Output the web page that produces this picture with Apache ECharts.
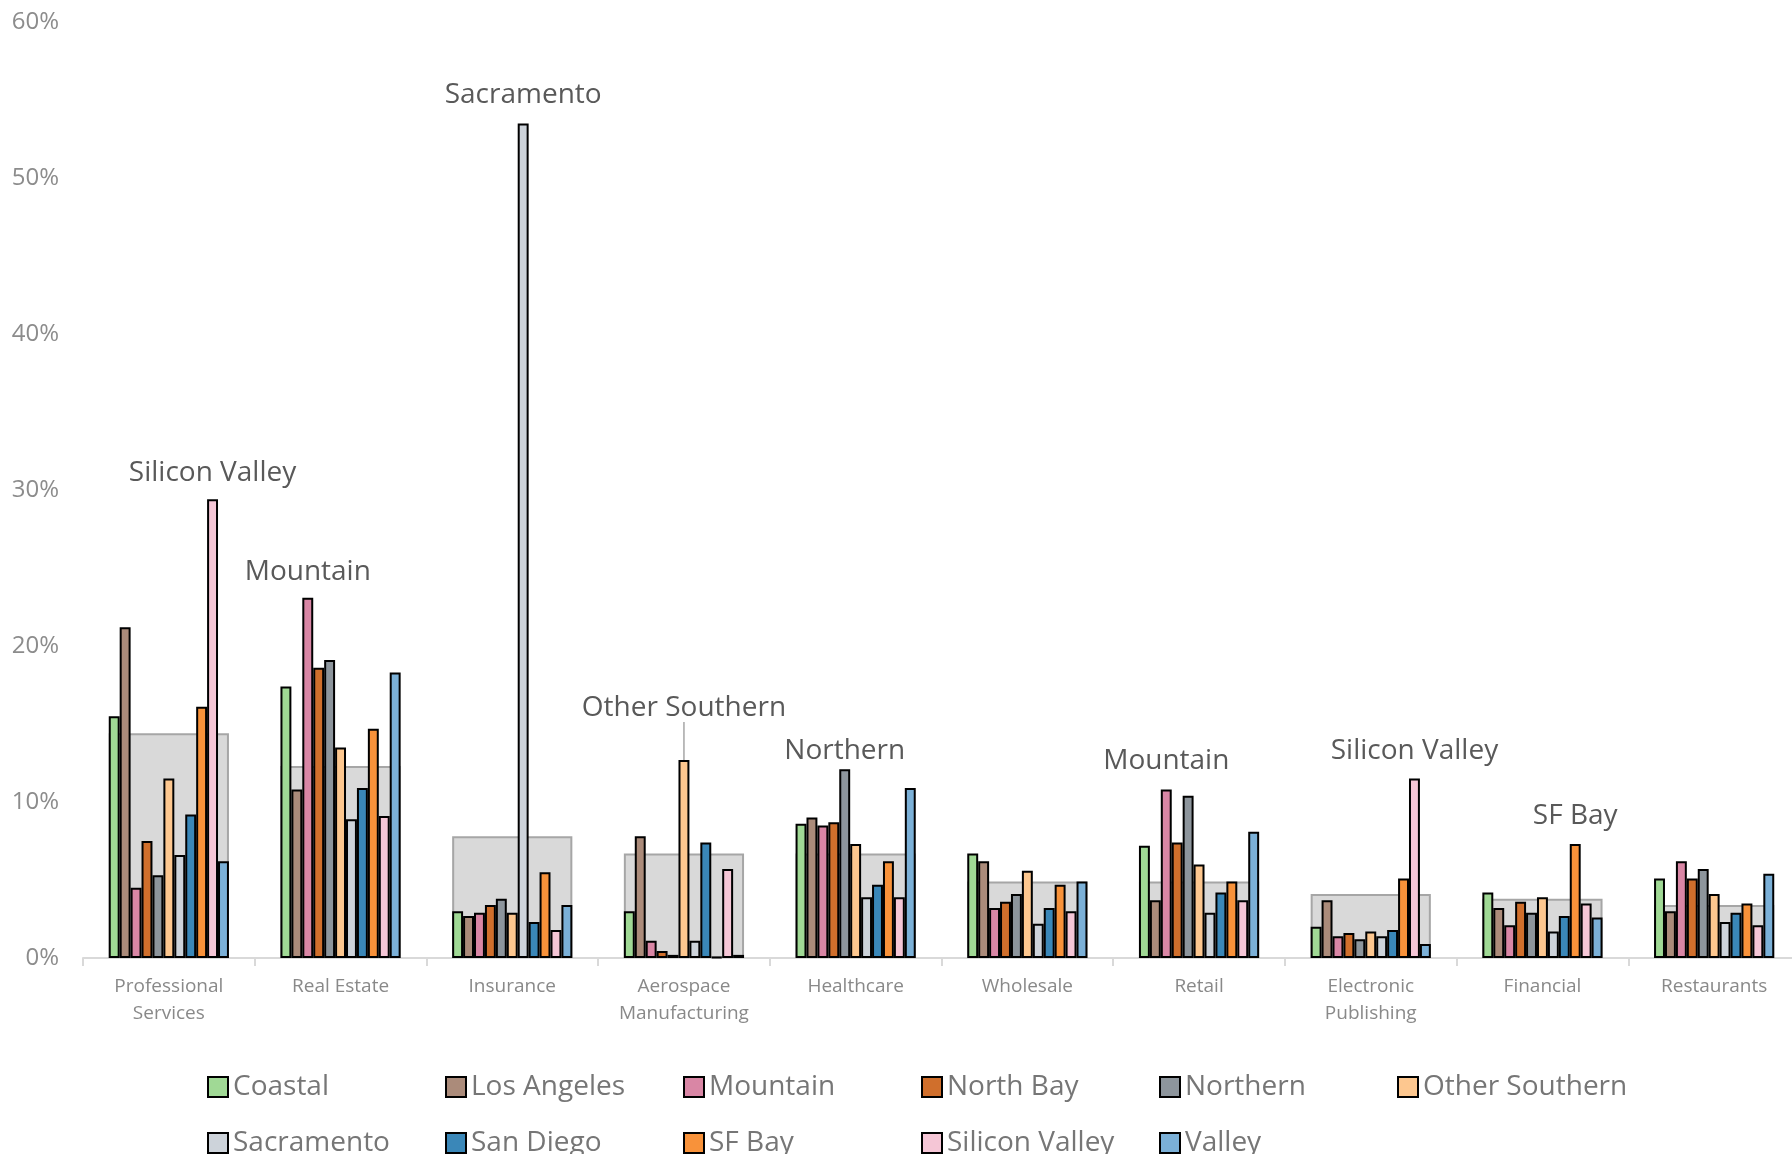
<!DOCTYPE html>
<html>
<head>
<meta charset="utf-8">
<script src="https://cdn.jsdelivr.net/npm/echarts@6/dist/echarts.min.js"></script>
<style>
html,body{margin:0;padding:0;background:#fff;overflow:hidden;width:1792px;height:1154px;}
#chart{width:1800px;height:1154px;}
</style>
</head>
<body>
<div id="chart"></div>
<script>
const categories = ['Professional\nServices', 'Real Estate', 'Insurance', 'Aerospace\nManufacturing', 'Healthcare', 'Wholesale', 'Retail', 'Electronic\nPublishing', 'Financial', 'Restaurants'];
const regions = ['Coastal', 'Los Angeles', 'Mountain', 'North Bay', 'Northern', 'Other Southern', 'Sacramento', 'San Diego', 'SF Bay', 'Silicon Valley', 'Valley'];
const regionColors = ['#a0d995', '#ab8b7a', '#d986a5', '#d06f2c', '#8d959c', '#fdc78f', '#cdd3da', '#3a87b8', '#f8923a', '#f5c6d6', '#7bb0d7'];

const coastal       = [15.5, 17.4, 3.0, 3.0, 8.6, 6.7, 7.2, 2.0, 4.2, 5.1];
const losAngeles    = [21.2, 10.8, 2.7, 7.8, 9.0, 6.2, 3.7, 3.7, 3.2, 3.0];
const mountain      = [4.5, 23.1, 2.9, 1.1, 8.5, 3.2, 10.8, 1.4, 2.1, 6.2];
const northBay      = [7.5, 18.6, 3.4, 0.45, 8.7, 3.6, 7.4, 1.6, 3.6, 5.1];
const northern      = [5.3, 19.1, 3.8, 0.2, 12.1, 4.1, 10.4, 1.2, 2.9, 5.7];
const otherSouthern = [11.5, 13.5, 2.9, 12.7, 7.3, 5.6, 6.0, 1.7, 3.9, 4.1];
const sacramento    = [6.6, 8.9, 53.5, 1.1, 3.9, 2.2, 2.9, 1.4, 1.7, 2.3];
const sanDiego      = [9.2, 10.9, 2.3, 7.4, 4.7, 3.2, 4.2, 1.8, 2.7, 2.9];
const sfBay         = [16.1, 14.7, 5.5, 0.05, 6.2, 4.7, 4.9, 5.1, 7.3, 3.5];
const siliconValley = [29.4, 9.1, 1.8, 5.7, 3.9, 3.0, 3.7, 11.5, 3.5, 2.1];
const valley        = [6.2, 18.3, 3.4, 0.2, 10.9, 4.9, 8.1, 0.9, 2.6, 5.4];
const californiaAverage = [14.4, 12.3, 7.8, 6.7, 6.7, 4.9, 4.9, 4.1, 3.8, 3.4];

const regionValues = [coastal, losAngeles, mountain, northBay, northern, otherSouthern, sacramento, sanDiego, sfBay, siliconValley, valley];

// leading region annotated above each highlighted category
const annotatedCategories = ['Professional\nServices', 'Real Estate', 'Insurance', 'Aerospace\nManufacturing', 'Healthcare', 'Retail', 'Electronic\nPublishing', 'Financial'];
const annotatedRegions    = ['Silicon Valley', 'Mountain', 'Sacramento', 'Other Southern', 'Northern', 'Mountain', 'Silicon Valley', 'SF Bay'];

const yTicks = { min: 0, max: 60, interval: 10 };

const FONT = '"Open Sans", "Noto Sans", sans-serif';

const labelDistance = { 'Healthcare': 4, 'Professional\nServices': 12, 'Real Estate': 12 };

const barSeries = regions.map((name, si) => {
  const data = regionValues[si].map((v, ci) => {
    const cat = categories[ci];
    const idx = annotatedCategories.findIndex((c, k) => c === cat && annotatedRegions[k] === name);
    if (idx >= 0) {
      return {
        value: v,
        label: {
          show: true,
          position: 'top',
          distance: labelDistance[cat] != null ? labelDistance[cat] : 14,
          formatter: name,
          fontFamily: FONT,
          fontSize: 28,
          color: '#595959'
        }
      };
    }
    return v;
  });
  const s = {
    name: name,
    type: 'bar',
    xAxisIndex: 0,
    z: 3,
    barGap: '0%',
    barCategoryGap: '30%',
    itemStyle: { color: regionColors[si], borderColor: '#000', borderWidth: 2 },
    emphasis: { disabled: true },
    data: data
  };
  if (name === 'Other Southern') {
    s.labelLayout = { dy: -24 };
    s.labelLine = { show: true, lineStyle: { color: '#a6a6a6', width: 1.5 } };
  }
  return s;
});

const boxSeries = {
  name: 'California',
  type: 'bar',
  xAxisIndex: 1,
  z: 1,
  barCategoryGap: '30%',
  itemStyle: { color: '#d9d9d9', borderColor: '#a6a6a6', borderWidth: 2 },
  emphasis: { disabled: true },
  data: californiaAverage
};

const chart = echarts.init(document.getElementById('chart'), null, { renderer: 'canvas' });
chart.setOption({
  animation: false,
  backgroundColor: '#ffffff',
  grid: { left: 83, top: 22, right: 0, bottom: 196, containLabel: false },
  xAxis: [
    {
      type: 'category',
      data: categories,
      axisLine: { show: true, lineStyle: { color: '#d9d9d9', width: 2 } },
      axisTick: { show: true, length: 8, lineStyle: { color: '#d9d9d9', width: 2 } },
      axisLabel: { fontFamily: FONT, fontSize: 19, color: '#898989', lineHeight: 27, margin: 15, interval: 0 }
    },
    {
      type: 'category',
      data: categories,
      show: false
    }
  ],
  yAxis: {
    type: 'value',
    min: yTicks.min,
    max: yTicks.max,
    interval: yTicks.interval,
    axisLine: { show: false },
    axisTick: { show: false },
    splitLine: { show: false },
    axisLabel: { formatter: '{value}%', fontFamily: FONT, fontSize: 24, color: '#8c8c8c', margin: 24 }
  },
  legend: {
    data: regions,
    left: 207,
    top: 1064,
    width: 1440,
    padding: 0,
    itemGap: 10,
    itemWidth: 20,
    itemHeight: 20,
    icon: 'rect',
    itemStyle: { borderColor: '#000', borderWidth: 2 },
    textStyle: { fontFamily: FONT, fontSize: 28, color: '#767676', width: 202, lineHeight: 46 }
  },
  series: [boxSeries].concat(barSeries)
});
</script>
</body>
</html>
